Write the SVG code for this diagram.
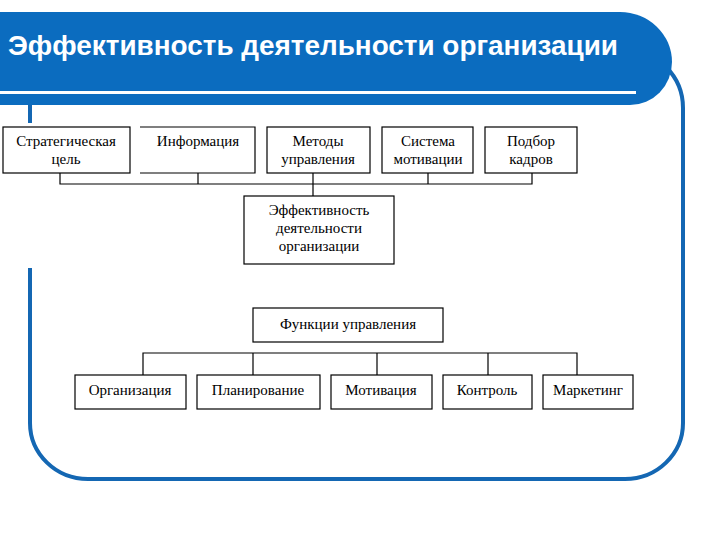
<svg xmlns="http://www.w3.org/2000/svg" width="720" height="540" viewBox="0 0 720 540">
<style>
.frame{fill:none;stroke:#1467b3;stroke-width:4}
.box{fill:#fff;stroke:#000;stroke-width:1.2}
.t{font-family:"Liberation Serif","Times New Roman",serif;font-size:15px;fill:#000;text-anchor:middle}
.c{fill:none;stroke:#000;stroke-width:1.2}
.title{font-family:"Liberation Sans",Arial,sans-serif;font-weight:bold;font-size:27px;fill:#fff}
</style>
<rect x="0" y="0" width="720" height="540" fill="#fff"/>
<g id="frame">
<path class="frame" d="M 625 50 A 58 58 0 0 1 683 108 L 683 423 A 58 56 0 0 1 625 479 L 88 479 A 58 56 0 0 1 30 423 L 30 268"/>
<path class="frame" d="M 30 100 L 30 123"/>
</g>
<g id="header">
<path d="M -5 12 L 620 12 A 52 50 0 0 1 672 62 A 42 43 0 0 1 630 105 L -5 105 Z" fill="#0b6cbf"/>
<rect x="0" y="91" width="636" height="3" fill="#fff"/>
<text class="title" x="8" y="55" textLength="610" lengthAdjust="spacingAndGlyphs">Эффективность деятельности организации</text>
</g>
<g id="connectors">
<path class="c" d="M 60 173 V 184 H 532 V 173 M 198 173 V 184 M 313 173 V 196 M 428 173 V 184"/>
<path class="c" d="M 143 375 V 353 H 577 V 375 M 253 353 V 375 M 377 353 V 375 M 488 353 V 375"/>
</g>
<g id="n-strategy">
<rect class="box" x="3" y="127" width="127" height="46"/>
<text class="t" x="66" y="146">Стратегическая</text>
<text class="t" x="66" y="164">цель</text>
</g>
<g id="n-info">
<rect x="140" y="127" width="115" height="46" fill="#fff"/>
<path class="c" d="M 140 127 H 255 V 173 H 140"/>
<text class="t" x="198" y="146">Информация</text>
</g>
<g id="n-methods">
<rect class="box" x="267" y="127" width="103" height="46"/>
<text class="t" x="318" y="146">Методы</text>
<text class="t" x="318" y="164">управления</text>
</g>
<g id="n-motivation-system">
<rect class="box" x="382" y="127" width="91" height="46"/>
<text class="t" x="428" y="146">Система</text>
<text class="t" x="428" y="164">мотивации</text>
</g>
<g id="n-staff">
<rect class="box" x="485" y="127" width="92" height="46"/>
<text class="t" x="531" y="146">Подбор</text>
<text class="t" x="531" y="164">кадров</text>
</g>
<g id="n-efficiency">
<rect class="box" x="244" y="196" width="150" height="68"/>
<text class="t" x="319" y="215">Эффективность</text>
<text class="t" x="319" y="233">деятельности</text>
<text class="t" x="319" y="251">организации</text>
</g>
<g id="n-functions">
<rect class="box" x="253" y="308" width="190" height="34"/>
<text class="t" x="348" y="329">Функции управления</text>
</g>
<g id="n-organization">
<rect class="box" x="75" y="375" width="111" height="34"/>
<text class="t" x="130" y="395">Организация</text>
</g>
<g id="n-planning">
<rect class="box" x="197" y="375" width="123" height="34"/>
<text class="t" x="258" y="395">Планирование</text>
</g>
<g id="n-motivation">
<rect class="box" x="331" y="375" width="101" height="34"/>
<text class="t" x="381" y="395">Мотивация</text>
</g>
<g id="n-control">
<rect class="box" x="443" y="375" width="89" height="34"/>
<text class="t" x="487" y="395">Контроль</text>
</g>
<g id="n-marketing">
<rect class="box" x="543" y="375" width="90" height="34"/>
<text class="t" x="588" y="395">Маркетинг</text>
</g>
</svg>
